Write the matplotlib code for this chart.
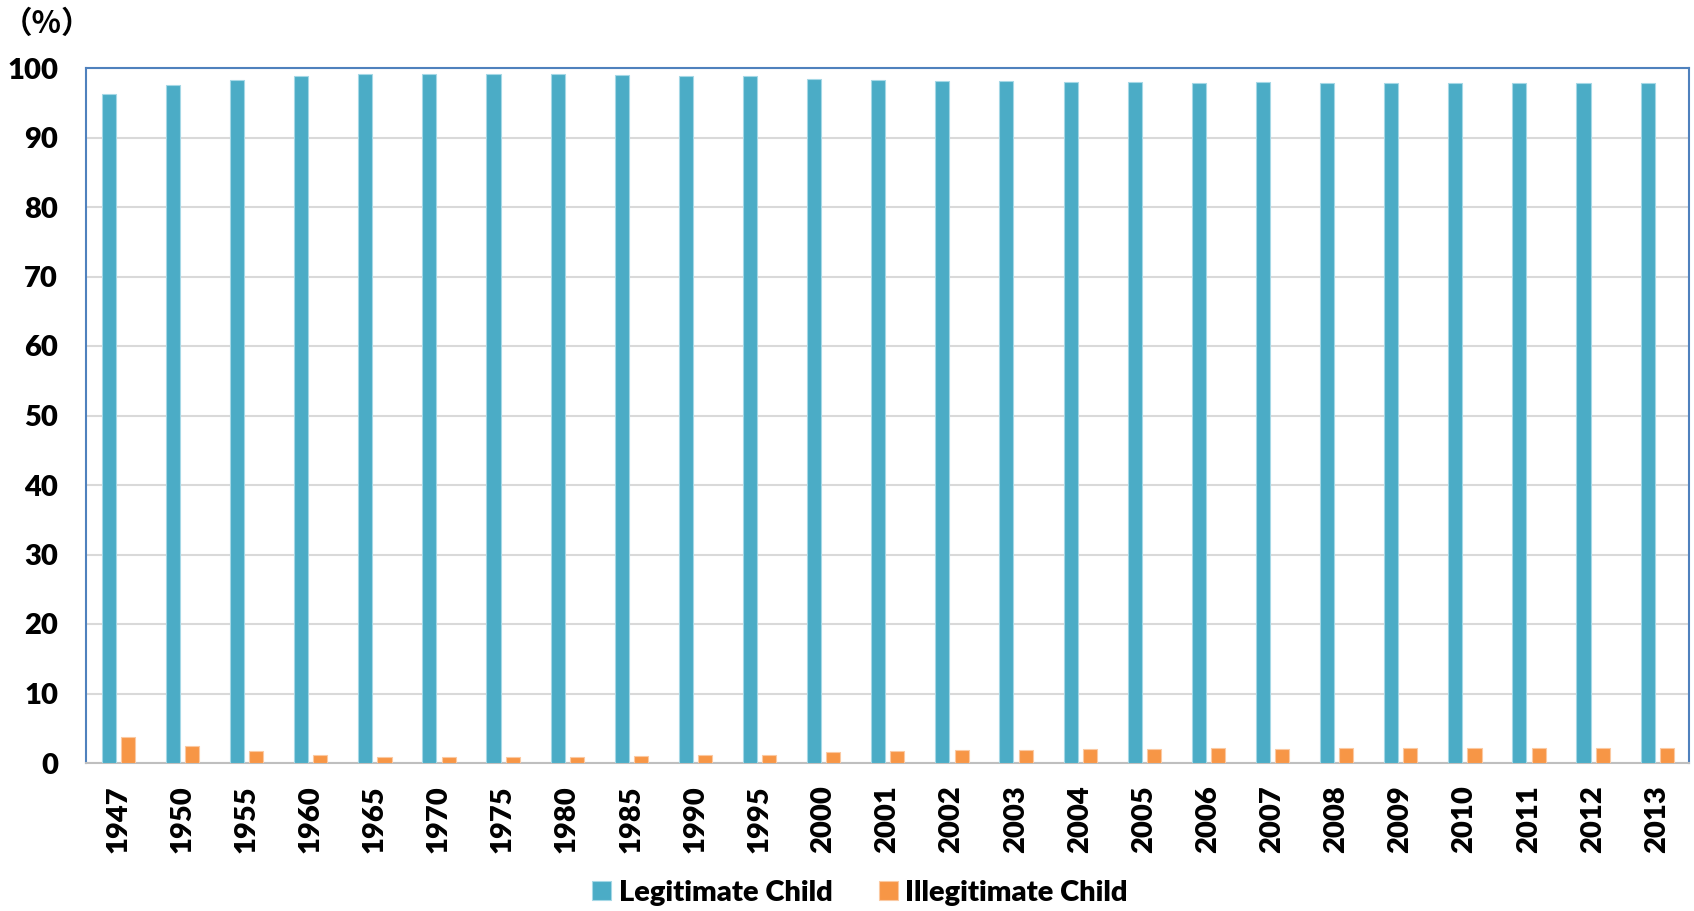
import matplotlib
matplotlib.use("Agg")
import matplotlib.pyplot as plt
import numpy as np

years = ["1947", "1950", "1955", "1960", "1965", "1970", "1975", "1980", "1985",
         "1990", "1995", "2000", "2001", "2002", "2003", "2004", "2005", "2006",
         "2007", "2008", "2009", "2010", "2011", "2012", "2013"]
illegitimate = [3.8, 2.5, 1.7, 1.2, 0.9, 0.9, 0.8, 0.8, 1.0, 1.1, 1.2, 1.6, 1.7,
                1.9, 1.9, 2.0, 2.0, 2.1, 2.0, 2.1, 2.1, 2.1, 2.2, 2.2, 2.2]
legitimate = [96.2, 97.5, 98.3, 98.8, 99.1, 99.1, 99.2, 99.2, 99.0, 98.9, 98.8,
              98.4, 98.3, 98.1, 98.1, 98.0, 98.0, 97.9, 98.0, 97.9, 97.9, 97.9,
              97.8, 97.8, 97.8]

blue = "#4BACC6"
orange = "#F79646"
fsize = 21

plt.rcParams["font.family"] = ["Lato", "Noto Sans CJK JP", "DejaVu Sans"]
plt.rcParams["font.weight"] = "heavy"

fig = plt.figure(figsize=(16.94, 9.11), dpi=100)
ax = fig.add_axes([86 / 1694, 1 - 763 / 911, (1689 - 86) / 1694, (763 - 68) / 911])

x = np.arange(len(years))
w = 0.22
ax.bar(x - 0.145, legitimate, w, color=blue, edgecolor="#A5D8E6", linewidth=0.8,
       label="Legitimate Child", zorder=3)
ax.bar(x + 0.155, illegitimate, w, color=orange, edgecolor="#FBC9A2", linewidth=0.8,
       label="Illegitimate Child", zorder=3)

ax.set_xlim(-0.5, len(years) - 0.5)
ax.set_ylim(0, 100)
ax.set_yticks(range(0, 101, 10))
ax.set_xticks(x)
ax.set_xticklabels(years, rotation=90, fontsize=fsize, fontweight="heavy")
ax.tick_params(axis="y", labelsize=fsize, length=0, pad=20)
ax.tick_params(axis="x", length=0, pad=16)
for lab in ax.get_yticklabels():
    lab.set_fontweight("heavy")

ax.grid(axis="y", color="#D9D9D9", linewidth=1.5, zorder=0)
for side in ["left", "top", "right"]:
    ax.spines[side].set_color("#4F81BD")
    ax.spines[side].set_linewidth(1.5)
ax.spines["bottom"].set_color("#BFBFBF")
ax.spines["bottom"].set_linewidth(1.5)

# (%) unit label, top-left
fig.text(2 / 1694, 1 - 24 / 911, "（%）", fontsize=22, fontweight="bold", va="center",
         ha="left", family=["Noto Sans CJK JP", "DejaVu Sans"])

fig.legend(loc="center", bbox_to_anchor=(860 / 1694, 1 - 893 / 911), ncol=2,
           frameon=False, fontsize=fsize, handlelength=0.65, handleheight=0.65,
           handletextpad=0.25, columnspacing=1.6)

fig.savefig("out.png", dpi=100)
